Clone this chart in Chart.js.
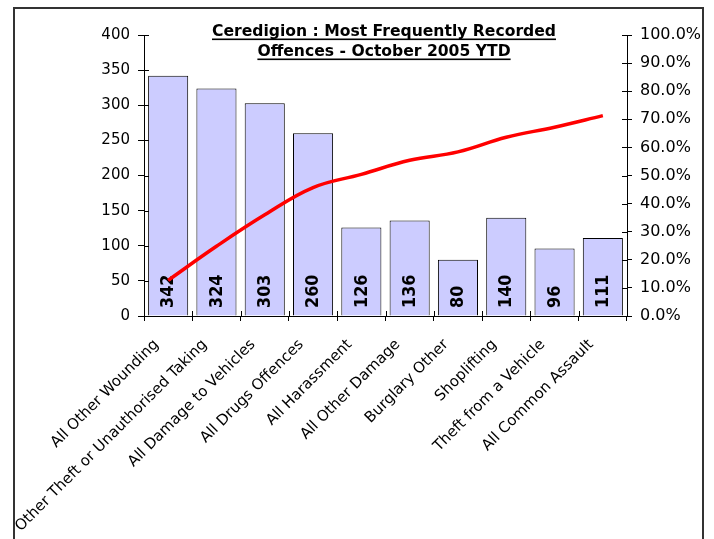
<!DOCTYPE html>
<html>
<head>
<meta charset="utf-8">
<script src="https://cdn.jsdelivr.net/npm/chart.js@4/dist/chart.umd.min.js"></script>
<style>
  html, body { margin: 0; padding: 0; background: #fff; }
  canvas { display: block; }
</style>
</head>
<body>
<canvas id="chartOffences" width="714" height="539"></canvas>
<script>
const categories = [
  'All Other Wounding',
  'Other Theft or Unauthorised Taking',
  'All Damage to Vehicles',
  'All Drugs Offences',
  'All Harassment',
  'All Other Damage',
  'Burglary Other',
  'Shoplifting',
  'Theft from a Vehicle',
  'All Common Assault'
];
const offences = [342, 324, 303, 260, 126, 136, 80, 140, 96, 111];
// cumulative share of all recorded offences
const cumulativePct = [12.7, 24.8, 36.0, 45.7, 50.4, 55.4, 58.4, 63.6, 67.2, 71.3];
const titleLines = ['Ceredigion : Most Frequently Recorded', 'Offences - October 2005 YTD'];

const FONT = '"DejaVu Sans", Verdana, sans-serif';

// frame, title, bar labels, slanted category labels and the inner half of the cross ticks
const decor = {
  id: 'decor',
  beforeDraw(chart) {
    const ctx = chart.ctx;
    ctx.save();
    ctx.fillStyle = '#fff';
    ctx.fillRect(0, 0, chart.width, chart.height);
    ctx.strokeStyle = '#333';
    ctx.lineWidth = 2;
    ctx.strokeRect(14, 8, 689, 560);
    ctx.restore();
  },
  afterDatasetDraw(chart, args) {
    if (args.index !== 0) return;
    const ctx = chart.ctx;
    ctx.save();
    ctx.font = 'bold 16px ' + FONT;
    ctx.fillStyle = '#000';
    ctx.textAlign = 'left';
    ctx.textBaseline = 'middle';
    args.meta.data.forEach((bar, i) => {
      ctx.save();
      ctx.translate(bar.x + 0.5, bar.base - 7.5);
      ctx.scale(1.12, 1);
      ctx.rotate(-Math.PI / 2);
      ctx.fillText(String(offences[i]), 0, 0);
      ctx.restore();
    });
    ctx.restore();
  },
  afterDraw(chart) {
    const ctx = chart.ctx;
    const { x, y, y2 } = chart.scales;
    ctx.save();
    ctx.strokeStyle = '#000';
    ctx.lineWidth = 1;
    ctx.beginPath();
    y.ticks.forEach(t => {
      const p = Math.round(y.getPixelForValue(t.value)) + 0.5;
      ctx.moveTo(x.left, p); ctx.lineTo(x.left + 5, p);
    });
    y2.ticks.forEach(t => {
      const p = Math.round(y2.getPixelForValue(t.value)) + 0.5;
      ctx.moveTo(x.right - 5, p); ctx.lineTo(x.right, p);
    });
    for (let i = 0; i <= categories.length; i++) {
      const p = Math.round(x.getPixelForValue(i - 0.5)) + 0.5;
      ctx.moveTo(p, y.bottom - 5); ctx.lineTo(p, y.bottom);
    }
    ctx.stroke();

    // category labels, slanted 45 degrees, right end under the category
    ctx.fillStyle = '#000';
    ctx.font = '15px ' + FONT;
    ctx.textAlign = 'right';
    ctx.textBaseline = 'alphabetic';
    categories.forEach((c, i) => {
      ctx.save();
      ctx.translate(x.getPixelForValue(i) - 9, y.bottom + 29);
      ctx.rotate(-Math.PI / 4);
      ctx.fillText(c, 0, 0);
      ctx.restore();
    });

    ctx.font = 'bold 15.6px ' + FONT;
    ctx.textAlign = 'center';
    const cx = 384;
    titleLines.forEach((line, i) => {
      const by = 35.5 + i * 20;
      ctx.fillText(line, cx, by);
      const w = ctx.measureText(line).width;
      ctx.fillRect(cx - w / 2, by + 3, w, 1.6);
    });
    ctx.restore();
  }
};

new Chart(document.getElementById('chartOffences'), {
  data: {
    labels: categories,
    datasets: [
      {
        type: 'bar',
        data: offences,
        yAxisID: 'y',
        backgroundColor: '#CCCCFF',
        borderColor: '#000',
        borderWidth: 1,
        barPercentage: 0.83,
        categoryPercentage: 1,
        order: 1
      },
      {
        type: 'line',
        data: cumulativePct,
        yAxisID: 'y2',
        borderColor: '#FF0000',
        borderWidth: 3.5,
        pointRadius: 0,
        tension: 0.4,
        fill: false,
        order: 0
      }
    ]
  },
  options: {
    responsive: false,
    animation: false,
    layout: { padding: { top: 35, left: 0, right: 0, bottom: 0 } },
    plugins: { legend: { display: false }, tooltip: { enabled: false } },
    scales: {
      x: {
        grid: { drawOnChartArea: false, tickLength: 5, color: '#000' },
        border: { color: '#000', width: 1 },
        ticks: { display: false },
        afterFit(s) { s.height = 223; }
      },
      y: {
        position: 'left',
        min: 0, max: 400,
        grid: { drawOnChartArea: false, tickLength: 6, color: '#000' },
        border: { color: '#000', width: 1 },
        ticks: { stepSize: 50, padding: 8, color: '#000', font: { family: FONT, size: 15 } },
        afterFit(s) { s.width = 144; }
      },
      y2: {
        position: 'right',
        min: 0, max: 100,
        grid: { drawOnChartArea: false, tickLength: 5, color: '#000' },
        border: { color: '#000', width: 1 },
        ticks: {
          stepSize: 10, padding: 8, color: '#000', font: { family: FONT, size: 16 },
          callback: v => v.toFixed(1) + '%'
        },
        afterFit(s) { s.width = 87; }
      }
    }
  },
  plugins: [decor]
});
</script>
</body>
</html>
